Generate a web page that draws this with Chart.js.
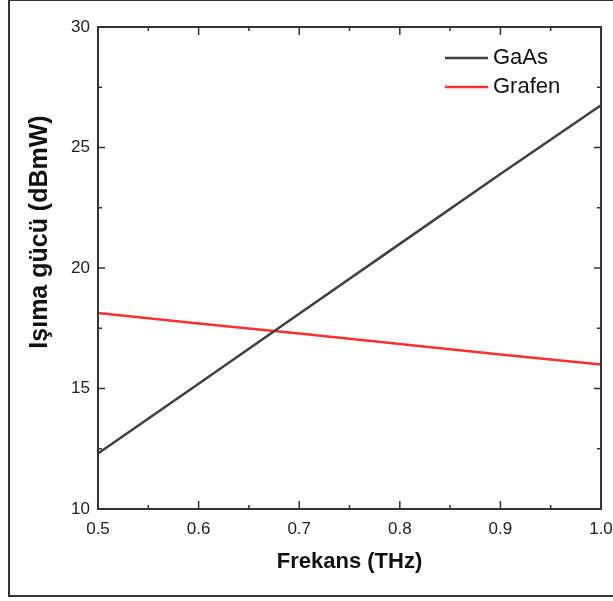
<!DOCTYPE html>
<html>
<head>
<meta charset="utf-8">
<script src="https://cdn.jsdelivr.net/npm/chart.js@4"></script>
<style>
  html, body { margin: 0; padding: 0; background: #fff; }
  canvas { display: block; }
</style>
</head>
<body>
<canvas id="chart" width="613" height="601"></canvas>
<script>
const frequencies = [0.5, 0.6, 0.7, 0.8, 0.9, 1.0];
const gaasValues = [12.3, 15.2, 18.1, 21.0, 23.9, 26.75];
const grafenValues = [18.13, 17.7, 17.28, 16.85, 16.41, 16.0];
const seriesLabels = ["GaAs", "Grafen"];
const xTitle = "Frekans (THz)";
const yTitle = "Işıma gücü (dBmW)";

const FONT = "'Liberation Sans', Arial, sans-serif";

const toPoints = (values) => values.map((v, i) => ({ x: frequencies[i], y: v }));

// outer frame, axis box, inside ticks, rotated y title and legend
const decorations = {
  id: "decorations",
  beforeDraw(chart) {
    const ctx = chart.ctx;
    ctx.save();
    ctx.fillStyle = "#fff";
    ctx.fillRect(0, 0, chart.width, chart.height);
    ctx.strokeStyle = "#333";
    ctx.lineWidth = 2;
    ctx.strokeRect(9, 0, chart.width + 10, 596);
    ctx.restore();
  },
  afterDatasetsDraw(chart) {
    const { ctx, chartArea: a, scales: { x, y } } = chart;
    const seg = (x1, y1, x2, y2) => {
      ctx.beginPath();
      ctx.moveTo(x1, y1);
      ctx.lineTo(x2, y2);
      ctx.stroke();
    };
    ctx.save();
    ctx.strokeStyle = "#333";
    ctx.lineWidth = 2;
    ctx.strokeRect(a.left, a.top, a.right - a.left, a.bottom - a.top);

    ctx.lineWidth = 1.5;
    for (let i = 1; i < 10; i++) {
      const px = x.getPixelForValue(x.min + i * 0.05);
      const len = i % 2 === 0 ? 8 : 4;
      seg(px, a.bottom, px, a.bottom - len);
      seg(px, a.top, px, a.top + len);
    }
    for (let i = 1; i < 8; i++) {
      const py = y.getPixelForValue(y.min + i * 2.5);
      const len = i % 2 === 0 ? 7 : 4;
      seg(a.left, py, a.left + len, py);
      seg(a.right, py, a.right - len, py);
    }

    // y title
    ctx.save();
    ctx.translate(40, 232);
    ctx.rotate(-Math.PI / 2);
    ctx.fillStyle = "#111";
    ctx.font = "bold 25px " + FONT;
    ctx.textAlign = "center";
    ctx.textBaseline = "middle";
    ctx.fillText(yTitle, 0, 0);
    ctx.restore();

    // legend
    ctx.font = "22px " + FONT;
    ctx.textAlign = "left";
    ctx.textBaseline = "middle";
    chart.data.datasets.forEach((ds, i) => {
      const ly = 58 + i * 29;
      ctx.strokeStyle = ds.borderColor;
      ctx.lineWidth = 2.5;
      seg(445, ly, 488, ly);
      ctx.fillStyle = "#111";
      ctx.fillText(ds.label, 493, ly);
    });
    ctx.restore();
  },
};

new Chart(document.getElementById("chart"), {
  type: "line",
  data: {
    datasets: [
      {
        label: seriesLabels[0],
        data: toPoints(gaasValues),
        borderColor: "#404040",
        borderWidth: 2.5,
        pointRadius: 0,
        fill: false,
      },
      {
        label: seriesLabels[1],
        data: toPoints(grafenValues),
        borderColor: "#ff3030",
        borderWidth: 2.5,
        pointRadius: 0,
        fill: false,
      },
    ],
  },
  options: {
    responsive: false,
    animation: false,
    layout: { padding: { left: 0, top: 27, right: 12, bottom: 0 } },
    plugins: {
      legend: { display: false },
      tooltip: { enabled: false },
    },
    scales: {
      x: {
        type: "linear",
        min: 0.5,
        max: 1.0,
        grid: { display: false, drawTicks: false },
        border: { display: false },
        ticks: {
          stepSize: 0.1,
          padding: 10,
          color: "#222",
          font: { family: FONT, size: 17 },
          callback: (v) => Number(v).toFixed(1),
        },
        title: {
          display: true,
          text: xTitle,
          color: "#111",
          font: { family: FONT, size: 22, weight: "bold" },
          padding: { top: 0, bottom: 26 },
        },
        afterFit: (scale) => {
          scale.height = 92;
          scale.paddingRight = 0;
          scale.paddingLeft = 0;
        },
      },
      y: {
        min: 10,
        max: 30,
        grid: { display: false, drawTicks: false },
        border: { display: false },
        ticks: {
          stepSize: 5,
          padding: 8,
          color: "#222",
          font: { family: FONT, size: 17 },
        },
        afterFit: (scale) => {
          scale.width = 98;
          scale.paddingTop = 0;
          scale.paddingBottom = 0;
        },
      },
    },
  },
  plugins: [decorations],
});
</script>
</body>
</html>
